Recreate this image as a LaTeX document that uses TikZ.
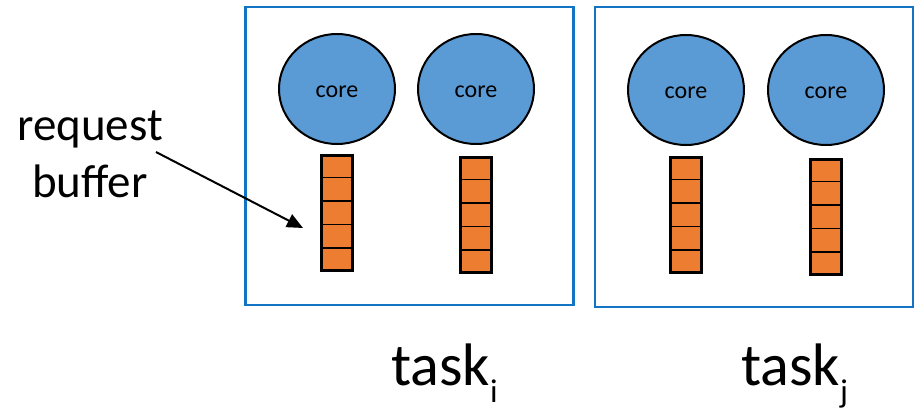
\documentclass[tikz,border=0pt]{standalone}
\usepackage{fontspec}
\setmainfont{Carlito}
\usepackage{xcolor}
\usetikzlibrary{arrows.meta,positioning,calc,shapes.geometric}
\definecolor{coreblue}{HTML}{5B9BD5}
\definecolor{frameblue}{HTML}{1373C4}
\definecolor{buforange}{HTML}{ED7D31}
\newcommand{\tasksub}[1]{\raisebox{-17pt}{\fontsize{33}{33}\selectfont #1}}

\begin{document}
\begin{tikzpicture}[x=1pt, y=-1pt,
  tk/.style={draw=frameblue, line width=2.2pt, inner sep=0pt},
  cr/.style={ellipse, draw=black, line width=2pt, fill=coreblue, minimum width=116pt, minimum height=110pt, inner sep=0pt, text height=20pt, text depth=2pt, font=\fontsize{24}{28}\selectfont},
  bf/.style={draw=black, line width=2.5pt, fill=buforange, minimum width=31pt, minimum height=115pt, inner sep=0pt},
  cell/.style={draw=black, line width=1.3pt},
  lbl/.style={font=\fontsize{60}{66}\selectfont, inner sep=0pt},
  arr/.style={-{Triangle[length=16pt, width=14pt]}, line width=2pt}]
\useasboundingbox (0,0) rectangle (915,409);
% task boxes
\node[tk, minimum width=328pt, minimum height=298pt] (ti) at (409.5,156) {};
\node[tk, minimum width=318pt, minimum height=300pt] (tj) at (754,157) {};
% cores and their buffers
\node[cr] (c1) at (337,89) {core};
\node[cr] (c2) at (476,89) {core};
\node[cr] (c3) at (686,90) {core};
\node[cr] (c4) at (826,90) {core};
\node[bf, below=9pt of c1] (b1) {};
\node[bf, below=11pt of c2] (b2) {};
\node[bf, below=10pt of c3] (b3) {};
\node[bf, below=12pt of c4] (b4) {};
\foreach \b in {b1,b2,b3,b4}
  \foreach \k in {1,...,4}
    \draw[cell] ($(\b.north west)!\k/5!(\b.south west)$) -- ($(\b.north east)!\k/5!(\b.south east)$);
% labels
\node[lbl, anchor=base west] (li) at (391,385) {task\tasksub{i}};
\node[lbl, anchor=base west] (lj) at (741,385) {task\tasksub{j}};
\node[align=center, inner sep=0pt, font=\fontsize{47}{57}\selectfont] (rb) at (90,154) {request\\buffer};
\coordinate (rbtip) at (303,228);
\draw[arr] ($(rb.east)+(-7,-2)$) -- (rbtip);
\end{tikzpicture}
\end{document}
